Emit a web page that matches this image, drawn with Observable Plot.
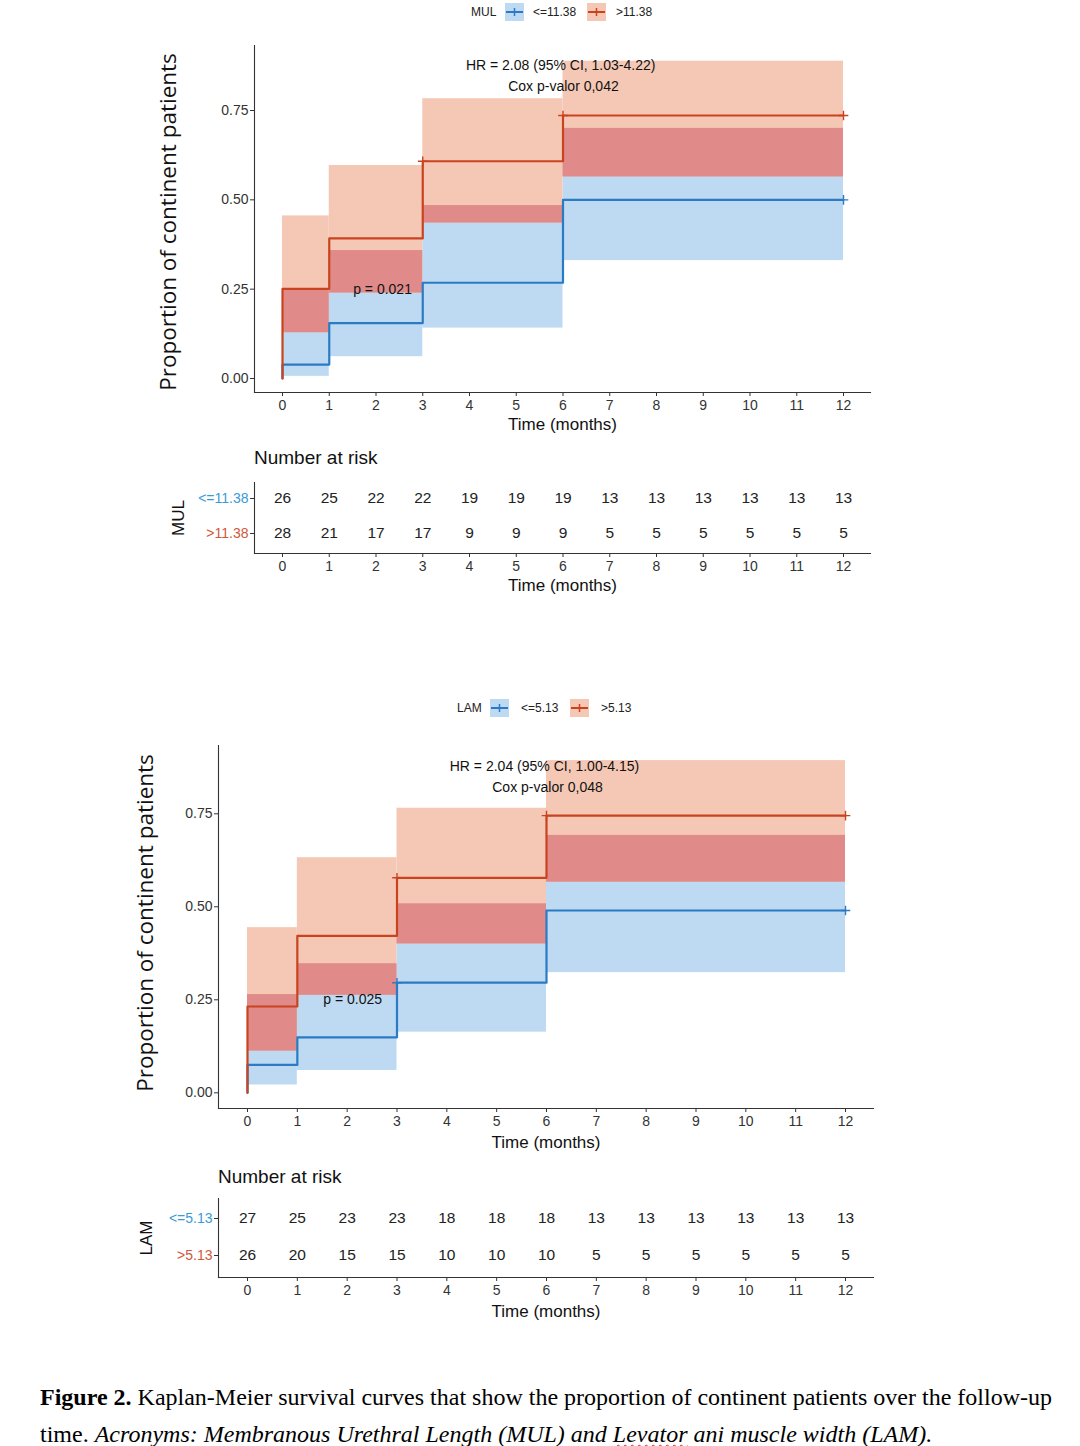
<!DOCTYPE html>
<html>
<head>
<meta charset="utf-8">
<script src="https://cdn.jsdelivr.net/npm/d3@7"></script>
<script src="https://cdn.jsdelivr.net/npm/@observablehq/plot@0.6"></script>
<style>
  body { margin: 0; background: #fff; }
  #page { position: relative; width: 1080px; height: 1446px; overflow: hidden; background: #fff;
          font-family: "Liberation Sans", Arial, sans-serif; }
  .legend { position: absolute; height: 18px; font-size: 12px; color: #222; white-space: nowrap; }
  .legend span, .legend svg { position: absolute; top: 0; }
  .legend span { line-height: 18px; }
  .risk-title { position: absolute; font-size: 19px; line-height: 22px; color: #111; white-space: nowrap; }
  .caption { position: absolute; left: 40px; top: 1379px; font-family: "Liberation Serif", "Times New Roman", serif;
             font-size: 24px; line-height: 37px; color: #000; white-space: nowrap; }
  .caption i { font-style: italic; }
  .squiggle { text-decoration: underline wavy #d03030; text-decoration-thickness: 1px; text-underline-offset: 2px; }
</style>
</head>
<body>
<div id="page"></div>
<script>
// ---------------- DATA ----------------
const months = [0, 1, 2, 3, 4, 5, 6, 7, 8, 9, 10, 11, 12];
const yTicks = [0, 0.25, 0.5, 0.75];
const stepStarts = [0, 1, 3, 6];
const stepEnds = [1, 3, 6, 12];

// Panel 1: MUL
const mulGroups = ["<=11.38", ">11.38"];
const mulLowEst = [0.039, 0.155, 0.268, 0.50];
const mulLowLower = [0.006, 0.061, 0.141, 0.33];
const mulLowUpper = [0.25, 0.358, 0.484, 0.70];
const mulHighEst = [0.251, 0.392, 0.608, 0.736];
const mulHighLower = [0.128, 0.239, 0.435, 0.564];
const mulHighUpper = [0.455, 0.596, 0.783, 0.888];
const mulLowCensor = [12];
const mulHighCensor = [3, 6, 12];
const mulRiskLow = [26, 25, 22, 22, 19, 19, 19, 13, 13, 13, 13, 13, 13];
const mulRiskHigh = [28, 21, 17, 17, 9, 9, 9, 5, 5, 5, 5, 5, 5];
const mulNotes = [
  {x: 5.95, y: 0.876, text: "HR = 2.08 (95% CI, 1.03-4.22)"},
  {x: 6.01, y: 0.817, text: "Cox p-valor 0,042"},
  {x: 2.14, y: 0.249, text: "p = 0.021"}
];

// Panel 2: LAM
const lamGroups = ["<=5.13", ">5.13"];
const lamLowEst = [0.075, 0.149, 0.296, 0.49];
const lamLowLower = [0.021, 0.06, 0.163, 0.323];
const lamLowUpper = [0.264, 0.347, 0.508, 0.692];
const lamHighEst = [0.232, 0.422, 0.578, 0.745];
const lamHighLower = [0.112, 0.262, 0.40, 0.566];
const lamHighUpper = [0.444, 0.632, 0.765, 0.893];
const lamLowCensor = [3, 12];
const lamHighCensor = [3, 6, 12];
const lamRiskLow = [27, 25, 23, 23, 18, 18, 18, 13, 13, 13, 13, 13, 13];
const lamRiskHigh = [26, 20, 15, 15, 10, 10, 10, 5, 5, 5, 5, 5, 5];
const lamNotes = [
  {x: 5.96, y: 0.877, text: "HR = 2.04 (95% CI, 1.00-4.15)"},
  {x: 6.02, y: 0.821, text: "Cox p-valor 0,048"},
  {x: 2.11, y: 0.251, text: "p = 0.025"}
];

const yTitle = "Proportion of continent patients";
const xTitle = "Time (months)";

// ---------------- STYLE ----------------
const lineBlue = "#2b7bc4", lineRed = "#c9431f";
const bandBlue = "#bddaf2", bandRed = "#f5c8b5", bandBoth = "#e08a8a";
const labelBlue = "#3a9ad8", labelRed = "#d0573a";
const axisColor = "#333";
const font = "Liberation Sans, Arial, sans-serif";

const page = document.getElementById("page");

function place(node, left, top) {
  node.style.position = "absolute";
  node.style.left = left + "px";
  node.style.top = top + "px";
  page.appendChild(node);
}

function keySvg(fill, stroke) {
  const ns = "http://www.w3.org/2000/svg";
  const s = document.createElementNS(ns, "svg");
  s.setAttribute("width", 19); s.setAttribute("height", 18);
  s.innerHTML = `<rect x="0" y="0" width="19" height="18" fill="${fill}"/>
    <line x1="1" y1="9" x2="18" y2="9" stroke="${stroke}" stroke-width="2"/>
    <line x1="9.5" y1="5" x2="9.5" y2="13" stroke="${stroke}" stroke-width="1.5"/>`;
  return s;
}

function legend(cfg) {
  const d = document.createElement("div");
  d.className = "legend";
  const add = (el, x) => { el.style.left = x + "px"; d.appendChild(el); };
  const t0 = document.createElement("span"); t0.textContent = cfg.name; add(t0, 0);
  add(keySvg(bandBlue, lineBlue), cfg.k1);
  const t1 = document.createElement("span"); t1.textContent = cfg.groups[0]; add(t1, cfg.t1);
  add(keySvg(bandRed, lineRed), cfg.k2);
  const t2 = document.createElement("span"); t2.textContent = cfg.groups[1]; add(t2, cfg.t2);
  place(d, cfg.left, cfg.top);
}

function survivalPlot(cfg) {
  const [gLow, gHigh] = cfg.groups;
  const bandsLow = stepStarts.map((s, i) => ({x1: s, x2: stepEnds[i], y1: cfg.lowLower[i], y2: cfg.lowUpper[i]}));
  const bandsHigh = stepStarts.map((s, i) => ({x1: s, x2: stepEnds[i], y1: cfg.highLower[i], y2: cfg.highUpper[i]}));
  const overlap = stepStarts.map((s, i) => ({
    x1: s, x2: stepEnds[i],
    y1: Math.max(cfg.lowLower[i], cfg.highLower[i]),
    y2: Math.min(cfg.lowUpper[i], cfg.highUpper[i])
  })).filter(d => d.y2 > d.y1);
  const curve = (g, est) => [{g, t: 0, v: 0}]
    .concat(stepStarts.map((s, i) => ({g, t: s, v: est[i]})))
    .concat([{g, t: 12, v: est[est.length - 1]}]);
  const lines = curve(gLow, cfg.lowEst).concat(curve(gHigh, cfg.highEst));
  const valueAt = (est, t) => est[d3.bisectRight(stepStarts, t) - 1];
  const censor = cfg.lowCensor.map(t => ({g: gLow, t, v: valueAt(cfg.lowEst, t)}))
    .concat(cfg.highCensor.map(t => ({g: gHigh, t, v: valueAt(cfg.highEst, t)})));

  return Plot.plot({
    width: cfg.width, height: cfg.height,
    marginLeft: cfg.ml, marginRight: cfg.mr, marginTop: cfg.mt, marginBottom: cfg.mb,
    x: {domain: [0, 12], range: cfg.xRange},
    y: {domain: [0, 0.75], range: cfg.yRange},
    color: {domain: cfg.groups, range: [lineBlue, lineRed]},
    style: {fontFamily: font, fontSize: "14px", color: axisColor, background: "transparent", overflow: "visible"},
    marks: [
      Plot.rect(bandsLow, {x1: "x1", x2: "x2", y1: "y1", y2: "y2", fill: bandBlue}),
      Plot.rect(bandsHigh, {x1: "x1", x2: "x2", y1: "y1", y2: "y2", fill: bandRed}),
      Plot.rect(overlap, {x1: "x1", x2: "x2", y1: "y1", y2: "y2", fill: bandBoth}),
      Plot.line(lines, {x: "t", y: "v", z: "g", stroke: "g", curve: "step-after", strokeWidth: 2.2}),
      Plot.dot(censor, {x: "t", y: "v", stroke: "g", symbol: "plus", r: 3.2, strokeWidth: 1.4}),
      Plot.frame({anchor: "left", stroke: axisColor, strokeWidth: 1.1}),
      Plot.frame({anchor: "bottom", stroke: axisColor, strokeWidth: 1.1}),
      Plot.axisX({ticks: months, tickSize: 4, tickPadding: 4, label: null, fontSize: 14, color: axisColor}),
      Plot.axisY({ticks: yTicks, tickFormat: d3.format(".2f"), tickSize: 4, tickPadding: 2, label: null, fontSize: 14, color: axisColor}),
      Plot.text([xTitle], {frameAnchor: "bottom", dy: cfg.xTitleDy, fontSize: 17, fill: "#111"}),
      Plot.text([yTitle], {frameAnchor: "left", textAnchor: "middle", rotate: -90, dx: cfg.yTitleDx, dy: cfg.yTitleDy,
        fontSize: 22.5, fontFamily: "Open Sans, sans-serif", fill: "#111"}),
      Plot.text(cfg.notes, {x: "x", y: "y", text: "text", fontSize: 14, fill: "#111"})
    ]
  });
}

function riskTable(cfg) {
  const [gLow, gHigh] = cfg.groups;
  const rows = months.map((t, i) => ({g: gLow, t, n: cfg.riskLow[i]}))
    .concat(months.map((t, i) => ({g: gHigh, t, n: cfg.riskHigh[i]})));
  return Plot.plot({
    width: cfg.width, height: cfg.height,
    marginLeft: cfg.ml, marginRight: cfg.mr, marginTop: cfg.mt, marginBottom: cfg.mb,
    x: {domain: [0, 12], range: cfg.xRange},
    y: {type: "point", domain: cfg.groups, range: cfg.yRange, padding: 0},
    color: {domain: cfg.groups, range: [labelBlue, labelRed]},
    style: {fontFamily: font, fontSize: "14px", color: axisColor, background: "transparent", overflow: "visible"},
    marks: [
      Plot.frame({anchor: "left", stroke: axisColor, strokeWidth: 1.1}),
      Plot.frame({anchor: "bottom", stroke: axisColor, strokeWidth: 1.1}),
      Plot.axisX({ticks: months, tickSize: 4, tickPadding: 4, label: null, fontSize: 14, color: axisColor}),
      Plot.axisY({tickSize: 4, tickFormat: () => "", label: null, color: axisColor}),
      Plot.text(cfg.groups, {y: d => d, frameAnchor: "left", dx: -6, textAnchor: "end", fill: d => d, fontSize: 14}),
      Plot.text(rows, {x: "t", y: "g", text: "n", fontSize: 15.5, fill: "#222"}),
      Plot.text([xTitle], {frameAnchor: "bottom", dy: cfg.xTitleDy, fontSize: 17, fill: "#111"}),
      Plot.text([cfg.name], {frameAnchor: "left", textAnchor: "middle", rotate: -90, dx: cfg.nameDx, fontSize: 17, fill: "#111"})
    ]
  });
}

function riskTitle(left, top) {
  const d = document.createElement("div");
  d.className = "risk-title";
  d.textContent = "Number at risk";
  place(d, left, top);
}

// ---------- Panel 1 (MUL) ----------
legend({name: "MUL", groups: mulGroups, left: 471, top: 3, k1: 34, t1: 62, k2: 116, t2: 145});
place(survivalPlot({
  groups: mulGroups, lowEst: mulLowEst, lowLower: mulLowLower, lowUpper: mulLowUpper,
  highEst: mulHighEst, highLower: mulHighLower, highUpper: mulHighUpper,
  lowCensor: mulLowCensor, highCensor: mulHighCensor, notes: mulNotes,
  width: 730, height: 400, ml: 104, mr: 10, mt: 5, mb: 48,
  xRange: [132, 693], yRange: [338, 70], xTitleDy: 37, yTitleDx: -86, yTitleDy: 3
}), 150, 40);
riskTitle(254, 447);
place(riskTable({
  name: "MUL", groups: mulGroups, riskLow: mulRiskLow, riskHigh: mulRiskHigh,
  width: 730, height: 130, ml: 104, mr: 10, mt: 12, mb: 47,
  xRange: [132, 693], yRange: [28, 63], xTitleDy: 37, nameDx: -76
}), 150, 470);

// ---------- Panel 2 (LAM) ----------
legend({name: "LAM", groups: lamGroups, left: 457, top: 699, k1: 33, t1: 64, k2: 113, t2: 144});
place(survivalPlot({
  groups: lamGroups, lowEst: lamLowEst, lowLower: lamLowLower, lowUpper: lamLowUpper,
  highEst: lamHighEst, highLower: lamHighLower, highUpper: lamHighUpper,
  lowCensor: lamLowCensor, highCensor: lamHighCensor, notes: lamNotes,
  width: 770, height: 420, ml: 98, mr: 17, mt: 15, mb: 42,
  xRange: [127, 725], yRange: [362.3, 83.3], xTitleDy: 39, yTitleDx: -73, yTitleDy: -4
}), 120, 730);
riskTitle(218, 1166);
place(riskTable({
  name: "LAM", groups: lamGroups, riskLow: lamRiskLow, riskHigh: lamRiskHigh,
  width: 770, height: 135, ml: 98, mr: 17, mt: 8, mb: 48,
  xRange: [127, 725], yRange: [28, 65], xTitleDy: 39, nameDx: -72
}), 120, 1190);

// ---------- Caption ----------
const cap = document.createElement("div");
cap.className = "caption";
cap.innerHTML = '<b>Figure 2.</b> Kaplan-Meier survival curves that show the proportion of continent patients over the follow-up<br>' +
  'time. <i>Acronyms: Membranous Urethral Length (MUL) and <span class="squiggle">Levator</span> ani muscle width (LAM).</i>';
page.appendChild(cap);
</script>
</body>
</html>
